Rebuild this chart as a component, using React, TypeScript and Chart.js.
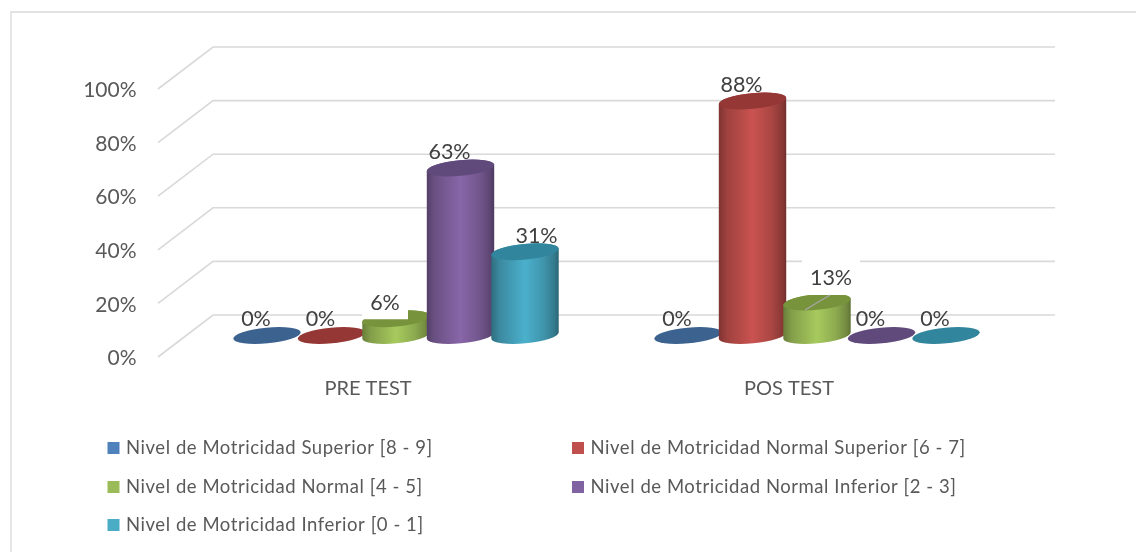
import React, { useEffect, useRef } from "react";
import { Chart, registerables } from "chart.js";

Chart.register(...registerables);

const categories = ["PRE TEST", "POS TEST"];
const seriesNames = [
  "Nivel de Motricidad Superior [8 - 9]",
  "Nivel de Motricidad Normal Superior [6 - 7]",
  "Nivel de Motricidad Normal [4 - 5]",
  "Nivel de Motricidad Normal Inferior [2 - 3]",
  "Nivel de Motricidad Inferior [0 - 1]",
];
const superior = [0, 0];
const normalSuperior = [0, 87.5];
const normal = [6.25, 12.5];
const normalInferior = [62.5, 0];
const inferior = [31.25, 0];
const seriesValues = [superior, normalSuperior, normal, normalInferior, inferior];
const seriesColors = ["#4f81bd", "#c0504d", "#9bbb59", "#8064a2", "#4bacc6"];
const capColors = ["#3c628f", "#953735", "#77933c", "#604a7b", "#31859c"];
const bodyMid = ["#4f81bd", "#ca5350", "#a7ca5e", "#8866a8", "#4bb0cc"];

const FONT = "Lato, Carlito, sans-serif";
const DEPTH_X = 55;
const DEPTH_Y = 42;
const TILT = -0.095;

function shade(hex: string, k: number) {
  const n = parseInt(hex.slice(1), 16);
  const c = [(n >> 16) & 255, (n >> 8) & 255, n & 255].map((v) => Math.round(v * k));
  return `rgb(${c[0]},${c[1]},${c[2]})`;
}

function cylinder(ctx: CanvasRenderingContext2D, cx: number, top: number, base: number, a: number, b: number, ds: number) {
  if (base - top > 0.5) {
    const g = ctx.createLinearGradient(cx - a, 0, cx + a, 0);
    const mid = bodyMid[ds];
    g.addColorStop(0, shade(mid, 0.62));
    g.addColorStop(0.12, shade(mid, 0.78));
    g.addColorStop(0.5, shade(mid, 1));
    g.addColorStop(0.78, shade(mid, 0.84));
    g.addColorStop(0.94, shade(mid, 0.68));
    g.addColorStop(1, shade(mid, 0.56));
    ctx.beginPath();
    ctx.ellipse(cx, base, a, b, TILT, 0, Math.PI);
    ctx.ellipse(cx, top, a, b, TILT, Math.PI, Math.PI * 2);
    ctx.closePath();
    ctx.fillStyle = g;
    ctx.fill();
  }
  ctx.beginPath();
  ctx.ellipse(cx, top, a, b, TILT, 0, Math.PI * 2);
  ctx.fillStyle = capColors[ds];
  ctx.fill();
}

const cylinderPlugin = {
  id: "cylinders3d",
  beforeDraw(chart: any) {
    const { ctx, width, height } = chart;
    ctx.save();
    ctx.fillStyle = "#ffffff";
    ctx.fillRect(0, 0, width, height);
    ctx.strokeStyle = "#d9d9d9";
    ctx.lineWidth = 1.3;
    ctx.beginPath();
    ctx.moveTo(11, height);
    ctx.lineTo(11, 12);
    ctx.lineTo(width, 12);
    ctx.stroke();
    ctx.restore();
  },
  beforeDatasetsDraw(chart: any) {
    const { ctx, scales, chartArea } = chart;
    const y = scales.y;
    ctx.save();
    ctx.strokeStyle = "#d9d9d9";
    ctx.lineWidth = 1.6;
    y.ticks.forEach((t: any) => {
      const py = y.getPixelForValue(t.value);
      ctx.beginPath();
      ctx.moveTo(chartArea.left, py);
      ctx.lineTo(chartArea.left + DEPTH_X, py - DEPTH_Y);
      ctx.lineTo(chartArea.right + DEPTH_X, py - DEPTH_Y);
      ctx.stroke();
    });

    const offX = DEPTH_X / 2;
    const offY = DEPTH_Y / 2 + 0.5;
    const labels: any[] = [];
    chart.data.datasets.forEach((ds: any, i: number) => {
      chart.getDatasetMeta(i).data.forEach((bar: any, j: number) => {
        const p = bar.getProps(["x", "y", "base", "width"], true);
        const cx = p.x + offX;
        const top = p.y - offY;
        const base = p.base - offY;
        const a = p.width * 0.525;
        cylinder(ctx, cx, top, base, a, 7.8, i);
        labels.push({ value: ds.data[j], cx, top, i, j });
      });
    });

    ctx.font = `21.5px ${FONT}`;
    ctx.textAlign = "center";
    ctx.textBaseline = "middle";
    labels.forEach((l) => {
      let dx = -11;
      let dy = -16;
      const isTeal = l.i === 4 && l.j === 0;
      const isBoxedSmall = l.i === 2 && l.j === 0;
      const isBoxedLarge = l.i === 2 && l.j === 1;
      if (isTeal) dx = 11.5;
      if (isBoxedLarge) {
        dx = 14;
        dy = -24;
      }
      if (isBoxedSmall) {
        ctx.fillStyle = "#ffffff";
        ctx.fillRect(l.cx + dx - 23, l.top + dy - 17, 46, 33.5);
      }
      if (isBoxedLarge) {
        ctx.fillStyle = "#ffffff";
        ctx.fillRect(l.cx + dx - 29, l.top + dy - 19, 58, 36);
        ctx.strokeStyle = "#a6a6a6";
        ctx.lineWidth = 1.4;
        ctx.beginPath();
        ctx.moveTo(l.cx + 13, l.top - 7);
        ctx.lineTo(l.cx - 12, l.top + 8);
        ctx.stroke();
      }
      ctx.fillStyle = "#404040";
      ctx.fillText(`${Math.round(l.value)}%`, l.cx + dx, l.top + dy);
    });

    // legend
    const cols = [107.5, 572];
    const rows = [448, 487, 525];
    ctx.font = `18.5px ${FONT}`;
    (ctx as any).letterSpacing = "0.55px";
    ctx.textAlign = "left";
    chart.data.datasets.forEach((ds: any, i: number) => {
      const x = cols[i % 2];
      const yy = rows[Math.floor(i / 2)];
      ctx.fillStyle = ds.backgroundColor;
      ctx.fillRect(x, yy - 6, 12, 12);
      ctx.fillStyle = "#595959";
      ctx.fillText(ds.label, x + 18.5, yy);
    });
    (ctx as any).letterSpacing = "0px";
    ctx.restore();
    return false;
  },
};

export default function App() {
  const ref = useRef<HTMLCanvasElement | null>(null);
  useEffect(() => {
    if (!ref.current) return;
    const chart = new Chart(ref.current, {
      type: "bar",
      data: {
        labels: categories,
        datasets: seriesNames.map((label, i) => ({
          label,
          data: seriesValues[i],
          backgroundColor: seriesColors[i],
          categoryPercentage: 0.766,
          barPercentage: 1,
        })),
      },
      options: {
        responsive: false,
        animation: false,
        layout: { padding: { top: 89, right: 136, left: 0, bottom: 0 } },
        plugins: { legend: { display: false }, tooltip: { enabled: false }, title: { display: false } },
        scales: {
          x: {
            grid: { display: false, drawTicks: false },
            border: { display: false },
            afterFit: (s: any) => {
              s.height = 195;
            },
            ticks: { color: "#595959", font: { family: FONT, size: 20 }, padding: 20, labelOffset: -0.5, maxRotation: 0 },
          },
          y: {
            min: 0,
            max: 100,
            grid: { display: false, drawTicks: false },
            border: { display: false },
            afterFit: (s: any) => {
              s.width = 158;
            },
            ticks: {
              stepSize: 20,
              color: "#595959",
              font: { family: FONT, size: 21 },
              padding: 21.5,
              labelOffset: 1.5,
              callback: (v: any) => `${v}%`,
            },
          },
        },
      },
      plugins: [cylinderPlugin],
    } as any);
    return () => chart.destroy();
  }, []);
  return (
    <canvas
      ref={ref}
      width={1136}
      height={552}
      style={{ position: "fixed", left: 0, top: 0, width: 1136, height: 552, display: "block" }}
    />
  );
}
